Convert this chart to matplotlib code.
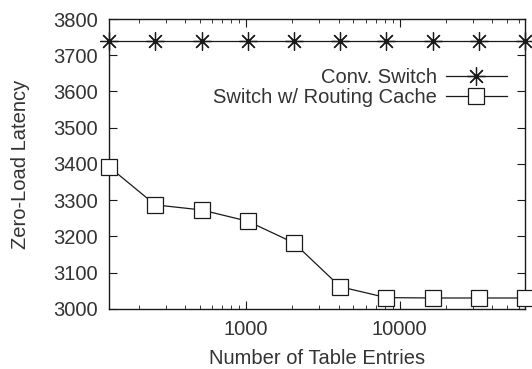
from matplotlib import pyplot as plt
from matplotlib.ticker import FixedLocator, LogLocator, NullFormatter

import numpy as np


table_entries = [128, 256, 512, 1024, 2048, 4096, 8192, 16384, 32768, 65536]
conv_switch = [3740, 3740, 3740, 3740, 3740, 3740, 3740, 3740, 3740, 3740]
routing_cache = [3392, 3287, 3273, 3242, 3182, 3061, 3031, 3030, 3030, 3030]

plt.rcParams['font.family'] = ['Liberation Sans', 'DejaVu Sans']
ink = '#1a1a1a'
text_color = '#333333'
fs = 14.5

fig = plt.figure(figsize=(5.32, 3.69), dpi=100)
ax = fig.add_axes([0.205, 0.163, 0.782, 0.7855])

ax.plot(table_entries, conv_switch, color=ink, lw=0.9,
        marker=(8, 2, 0), markersize=13, markeredgewidth=0.9,
        label='Conv. Switch', clip_on=False, zorder=3)
ax.plot(table_entries, routing_cache, color=ink, lw=0.9,
        marker='s', markersize=12, markerfacecolor='white',
        markeredgewidth=0.9, label='Switch w/ Routing Cache',
        clip_on=False, zorder=3)

ax.set_xscale('log')
ax.set_xlim(128, 65536)
ax.set_ylim(3000, 3800)
ax.xaxis.set_major_locator(FixedLocator([1000, 10000]))
ax.xaxis.set_major_formatter(plt.FuncFormatter(lambda v, p: '%d' % v))
ax.xaxis.set_minor_locator(LogLocator(base=10, subs=np.arange(2, 10)))
ax.xaxis.set_minor_formatter(NullFormatter())
ax.set_yticks(np.arange(3000, 3801, 100))

ax.tick_params(which='both', direction='in', top=True, right=True,
               colors=ink, labelcolor=text_color, labelsize=fs)
ax.tick_params(which='major', length=6, width=0.8, pad=8)
ax.tick_params(which='minor', length=3, width=0.6)
for s in ax.spines.values():
    s.set_color(ink)
    s.set_linewidth(1.0)

ax.set_xlabel('Number of Table Entries', fontsize=fs, color=text_color, labelpad=7)
ax.set_ylabel('Zero-Load Latency', fontsize=fs, color=text_color, labelpad=17)

leg = ax.legend(loc='upper right', bbox_to_anchor=(0.98, 0.865), frameon=False,
                markerfirst=False, fontsize=fs, handlelength=3.0,
                handletextpad=0.45, labelspacing=0.05, borderpad=0)
for t in leg.get_texts():
    t.set_color(text_color)

fig.savefig('out.png', dpi=100)
